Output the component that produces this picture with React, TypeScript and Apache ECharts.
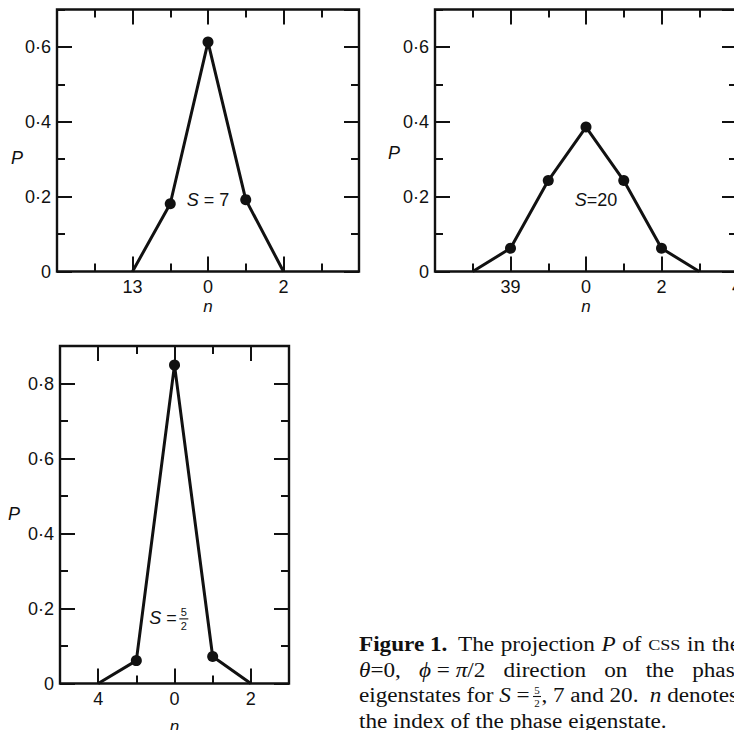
import React, { useEffect, useRef } from "react";
import * as echarts from "echarts";

// ---- data: P versus phase-eigenstate index n ----
const nS7 = [13, 14, 0, 1, 2];
const pS7 = [0, 0.181, 0.613, 0.192, 0];

const nS20 = [38, 39, 40, 0, 1, 2, 3];
const pS20 = [0, 0.062, 0.243, 0.386, 0.243, 0.062, 0];

const nS52 = [4, 5, 0, 1, 2];
const pS52 = [0, 0.061, 0.849, 0.072, 0];

// ---- tick labels ----
const xTickPos7 = [-2, 0, 2];
const xTickLabels7 = ["13", "0", "2"];
const xTickPos20 = [-2, 0, 2, 4];
const xTickLabels20 = ["39", "0", "2", "4"];
const xTickPos52 = [-2, 0, 2];
const xTickLabels52 = ["4", "0", "2"];
const yTickLabelsTop = ["0", "0·2", "0·4", "0·6"];
const yTickLabelsBottom = ["0", "0·2", "0·4", "0·6", "0·8"];

const INK = "#111";
const FONT_SANS = "'Liberation Sans', Arial, sans-serif";
const FONT_SERIF = "'Liberation Serif', 'Times New Roman', serif";

const panels = [
  {
    S: 7, n: nS7, p: pS7, xPos: xTickPos7, xLab: xTickLabels7, yLab: yTickLabelsTop,
    xMin: -4, xMax: 4, yMax: 0.7,
    box: { left: 57, top: 9.5, width: 302, height: 262 },
  },
  {
    S: 20, n: nS20, p: pS20, xPos: xTickPos20, xLab: xTickLabels20, yLab: yTickLabelsTop,
    xMin: -4, xMax: 4, yMax: 0.7,
    box: { left: 435, top: 9.5, width: 302, height: 262 },
  },
  {
    S: 2.5, n: nS52, p: pS52, xPos: xTickPos52, xLab: xTickLabels52, yLab: yTickLabelsBottom,
    xMin: -3, xMax: 3, yMax: 0.9,
    box: { left: 60, top: 346, width: 229, height: 337.5 },
  },
];

function offsetOf(n: number, S: number) {
  const N = Math.round(2 * S + 1);
  return n > S ? n - N : n;
}

function buildOption() {
  const grid: any[] = [];
  const xAxis: any[] = [];
  const yAxis: any[] = [];
  const series: any[] = [];
  const tickLine = { color: INK, width: 2 };

  panels.forEach((pn, i) => {
    grid.push({
      ...pn.box,
      show: true,
      borderColor: INK,
      borderWidth: 2.4,
      backgroundColor: "transparent",
      containLabel: false,
      outerBoundsMode: "none",
    });
    const evens: number[] = [];
    for (let v = Math.ceil(pn.xMin / 2) * 2; v <= pn.xMax; v += 2) evens.push(v);

    const baseX = {
      type: "value", gridIndex: i, min: pn.xMin, max: pn.xMax,
      splitLine: { show: false }, axisLine: { show: false, onZero: false },
    };
    xAxis.push({
      ...baseX, position: "bottom",
      axisTick: { show: true, inside: true, length: 15, customValues: evens, lineStyle: tickLine },
      axisLabel: {
        show: true, customValues: pn.xPos, margin: 6, fontSize: 18, color: INK, fontFamily: FONT_SANS,
        formatter: (v: number) => {
          const r = Math.round(v);
          const k = pn.xPos.indexOf(r);
          return Math.abs(v - r) < 1e-6 && k >= 0 ? pn.xLab[k] : "";
        },
      },
    });
    xAxis.push({
      ...baseX, position: "bottom", interval: 1,
      axisTick: { show: true, inside: true, length: 8, lineStyle: tickLine },
      axisLabel: { show: false },
    });
    xAxis.push({
      ...baseX, position: "top",
      axisTick: { show: true, inside: true, length: 15, customValues: evens, lineStyle: tickLine },
      axisLabel: { show: false },
    });
    xAxis.push({
      ...baseX, position: "top", interval: 1,
      axisTick: { show: true, inside: true, length: 8, lineStyle: tickLine },
      axisLabel: { show: false },
    });

    const baseY = {
      type: "value", gridIndex: i, min: 0, max: pn.yMax,
      splitLine: { show: false }, axisLine: { show: false, onZero: false },
    };
    yAxis.push({
      ...baseY, position: "left", interval: 0.2,
      axisTick: { show: true, inside: true, length: 15, lineStyle: tickLine },
      axisLabel: {
        show: true, margin: 6, fontSize: 18, color: INK, fontFamily: FONT_SANS,
        showMaxLabel: false,
        formatter: (v: number) => {
          const k = Math.round(v / 0.2);
          return Math.abs(v - k * 0.2) < 1e-6 && k < pn.yLab.length ? pn.yLab[k] : "";
        },
      },
    });
    yAxis.push({
      ...baseY, position: "left", interval: 0.1,
      axisTick: { show: true, inside: true, length: 8, lineStyle: tickLine },
      axisLabel: { show: false },
    });
    yAxis.push({
      ...baseY, position: "right", interval: 0.2,
      axisTick: { show: true, inside: true, length: 15, lineStyle: tickLine },
      axisLabel: { show: false },
    });
    yAxis.push({
      ...baseY, position: "right", interval: 0.1,
      axisTick: { show: true, inside: true, length: 8, lineStyle: tickLine },
      axisLabel: { show: false },
    });

    series.push({
      type: "line",
      xAxisIndex: 4 * i,
      yAxisIndex: 4 * i,
      showSymbol: true,
      showAllSymbol: true,
      symbolSize: 11,
      lineStyle: { color: INK, width: 3 },
      itemStyle: { color: INK },
      data: pn.n.map((nn, j) => ({
        value: [offsetOf(nn, pn.S), pn.p[j]],
        symbol: pn.p[j] > 0 ? "circle" : "none",
      })),
    });
  });

  return { animation: false, backgroundColor: "#fff", grid, xAxis, yAxis, series };
}

// ---------- text helpers ----------
let measureCtx: CanvasRenderingContext2D | null = null;
function measure(text: string, font: string) {
  if (!measureCtx) measureCtx = document.createElement("canvas").getContext("2d");
  if (!measureCtx) return text.length * 9;
  measureCtx.font = font;
  return measureCtx.measureText(text).width;
}

function sansRich(size: number) {
  return {
    i: { fontSize: size, fontFamily: FONT_SANS, fontStyle: "italic", fill: INK },
    r: { fontSize: size, fontFamily: FONT_SANS, fontStyle: "normal", fill: INK },
  };
}

const CAP_SIZE = 20;
const CAP_SCALE = 1.16;
const capStyles: Record<string, any> = {
  r: { fontSize: CAP_SIZE, fontFamily: FONT_SERIF, fontStyle: "normal", fontWeight: "normal", fill: INK },
  i: { fontSize: CAP_SIZE, fontFamily: FONT_SERIF, fontStyle: "italic", fontWeight: "normal", fill: INK },
  b: { fontSize: CAP_SIZE, fontFamily: FONT_SERIF, fontStyle: "normal", fontWeight: "bold", fill: INK },
  sc: { fontSize: CAP_SIZE * 0.78, fontFamily: FONT_SERIF, fontStyle: "normal", fontWeight: "normal", fill: INK },
};
function cssFont(st: any) {
  return `${st.fontStyle} ${st.fontWeight} ${st.fontSize}px ${st.fontFamily}`;
}

function fraction(cx: number, cy: number, size: number, gap: number, barW: number, family: string) {
  const t = (y: number, s: string) => ({
    type: "text", x: cx, y, silent: true,
    style: { text: s, fill: INK, fontSize: size, fontFamily: family, align: "center", verticalAlign: "middle" },
  });
  return [
    t(cy - gap, "5"),
    { type: "line", silent: true, shape: { x1: cx - barW / 2, y1: cy, x2: cx + barW / 2, y2: cy }, style: { stroke: INK, lineWidth: 1.1 } },
    t(cy + gap, "2"),
  ];
}

const annotations = [
  { i: 0, at: [-0.56, 0.19], segs: [["i", "S"], ["r", " = 7"]], frac: false },
  { i: 1, at: [-0.3, 0.19], segs: [["i", "S"], ["r", "=20"]], frac: false },
  { i: 2, at: [-0.66, 0.175], segs: [["i", "S"], ["r", " ="]], frac: true },
];
const pLabelSpec = [
  { dx: -40, y: 0.303 },
  { dx: -41, y: 0.317 },
  { dx: -46, y: 0.453 },
];
const nLabelGap = [35, 35, 42.5];

type Word = { segs?: string[][]; frac?: boolean; gap: number };
const captionLines: { y: number; end: number | null; words: Word[] }[] = [
  {
    y: 645, end: 740,
    words: [
      { segs: [["b", "Figure 1."]], gap: 0 },
      { segs: [["r", "The"]], gap: 1.6 },
      { segs: [["r", "projection"]], gap: 1 },
      { segs: [["i", "P"]], gap: 1 },
      { segs: [["r", "of"]], gap: 1 },
      { segs: [["sc", "CSS"]], gap: 1 },
      { segs: [["r", "in"]], gap: 1 },
      { segs: [["r", "the"]], gap: 1 },
    ],
  },
  {
    y: 670.5, end: 745,
    words: [
      { segs: [["i", "θ"], ["r", "=0,"]], gap: 0 },
      { segs: [["i", "ϕ"], ["r", " = "], ["i", "π"], ["r", "/2"]], gap: 1 },
      { segs: [["r", "direction"]], gap: 1 },
      { segs: [["r", "on"]], gap: 1 },
      { segs: [["r", "the"]], gap: 1 },
      { segs: [["r", "phase"]], gap: 1 },
    ],
  },
  {
    y: 696, end: 738,
    words: [
      { segs: [["r", "eigenstates"]], gap: 0 },
      { segs: [["r", "for"]], gap: 1 },
      { segs: [["i", "S"], ["r", " ="]], gap: 1 },
      { frac: true, gap: 0.5 },
      { segs: [["r", ","]], gap: 0 },
      { segs: [["r", "7"]], gap: 1 },
      { segs: [["r", "and"]], gap: 1 },
      { segs: [["r", "20."]], gap: 1 },
      { segs: [["i", "n"]], gap: 2 },
      { segs: [["r", "denotes"]], gap: 1 },
    ],
  },
  {
    y: 721.8, end: null,
    words: [{ segs: [["r", "the index of the phase eigenstate."]], gap: 0 }],
  },
];
const CAP_LEFT = 359;
const CAP_FRAC_W = 9;

function buildGraphic(chart: any) {
  const g: any[] = [];
  const toPx = (i: number, pt: number[]) =>
    chart.convertToPixel({ xAxisIndex: 4 * i, yAxisIndex: 4 * i }, pt) as number[];
  const sans = sansRich(18);

  annotations.forEach((a) => {
    const [x, y] = toPx(a.i, a.at);
    g.push({
      type: "text", x, y, silent: true,
      style: {
        text: a.segs.map(([s, t]) => `{${s}|${t}}`).join(""),
        rich: sans, fontSize: 18, fontFamily: FONT_SANS, fill: INK, align: "left", verticalAlign: "middle",
      },
    });
    if (a.frac) {
      const w = a.segs.reduce(
        (acc, [s, t]) => acc + measure(t, `${s === "i" ? "italic " : ""}18px ${FONT_SANS}`), 0);
      g.push(...fraction(x + w + 7, y + 1, 11, 7, 9, FONT_SANS));
    }
  });

  panels.forEach((pn, i) => {
    const [xl, yl] = toPx(i, [pn.xMin, pLabelSpec[i].y]);
    g.push({
      type: "text", x: xl + pLabelSpec[i].dx, y: yl, silent: true,
      style: { text: "P", fill: INK, fontSize: 18, fontFamily: FONT_SANS, fontStyle: "italic", align: "center", verticalAlign: "middle" },
    });
    const [xn, yn] = toPx(i, [0, 0]);
    g.push({
      type: "text", x: xn, y: yn + nLabelGap[i], silent: true,
      style: { text: "n", fill: INK, fontSize: 17, fontFamily: FONT_SANS, fontStyle: "italic", align: "center", verticalAlign: "middle" },
    });
  });

  // caption, laid out word by word (justified lines)
  const spaceW = measure(" ", cssFont(capStyles.r)) * CAP_SCALE;
  captionLines.forEach((ln) => {
    const widths = ln.words.map((w) =>
      w.frac ? CAP_FRAC_W : (w.segs || []).reduce((acc, [s, t]) => acc + measure(t, cssFont(capStyles[s])), 0) * CAP_SCALE);
    const total = widths.reduce((a, b) => a + b, 0);
    const gapUnits = ln.words.reduce((a, w) => a + w.gap, 0);
    const unit = ln.end != null && gapUnits > 0 ? (ln.end - CAP_LEFT - total) / gapUnits : spaceW;
    let x = CAP_LEFT;
    ln.words.forEach((w, k) => {
      x += w.gap * unit;
      if (w.frac) {
        g.push(...fraction(x + CAP_FRAC_W / 2, ln.y + 0.5, 11, 6.5, 8, FONT_SERIF));
      } else {
        g.push({
          type: "text", x, y: ln.y, scaleX: CAP_SCALE, silent: true,
          style: {
            text: (w.segs || []).map(([s, t]) => `{${s}|${t}}`).join(""),
            rich: capStyles, fontSize: CAP_SIZE, fontFamily: FONT_SERIF, fill: INK,
            align: "left", verticalAlign: "middle",
          },
        });
      }
      x += widths[k];
    });
  });

  return g;
}

export default function App() {
  const ref = useRef<HTMLDivElement>(null);
  useEffect(() => {
    if (!ref.current) return;
    const chart = echarts.init(ref.current, null, { renderer: "svg" });
    chart.setOption(buildOption() as any);
    chart.setOption({ graphic: buildGraphic(chart) } as any);
    return () => chart.dispose();
  }, []);
  return (
    <div
      ref={ref}
      style={{ position: "absolute", left: 0, top: 0, width: 734, height: 730, background: "#fff" }}
    />
  );
}
